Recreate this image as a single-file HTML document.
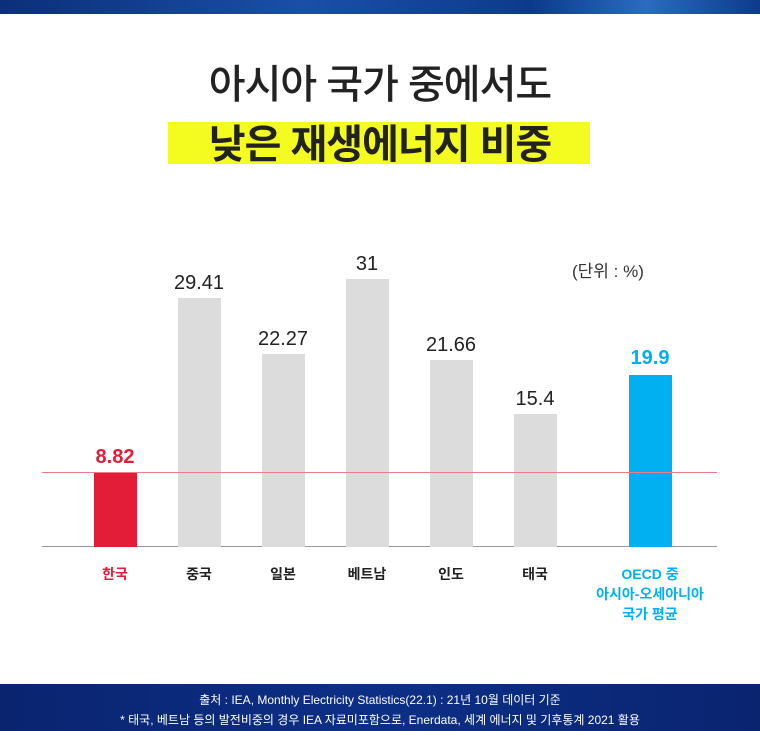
<!DOCTYPE html>
<html><head><meta charset="utf-8"><style>
*{margin:0;padding:0}
body{width:760px;height:731px;background:#fff;position:relative;overflow:hidden;font-family:"Liberation Sans","Noto Sans CJK KR",sans-serif}
.a{position:absolute}
.bar{position:absolute;width:43px;background:#dcdcdc}
.v{position:absolute;width:120px;text-align:center;font-size:20px;color:#222}
.c{position:absolute;width:160px;text-align:center;font-size:14px;font-weight:bold;color:#222;line-height:20px}
</style></head><body>
<div class="a" style="left:0;top:0;width:760px;height:14px;background:linear-gradient(90deg,#0b2f7a,#1a4fa8 40%,#0d3a8c 70%,#2a6cc0 85%,#0d3a8c)"></div>
<div class="a" style="left:0;top:52px;width:760px;text-align:center;font-size:40px;font-weight:500;color:#222;letter-spacing:-1px">아시아 국가 중에서도</div>
<div class="a" style="left:168px;top:122px;width:422px;height:42px;background:#f4fb1e"></div>
<div class="a" style="left:0;top:112px;width:760px;text-align:center;font-size:40px;font-weight:bold;color:#222;letter-spacing:-1px">낮은 재생에너지 비중</div>
<div class="a" style="left:572px;top:257px;font-size:17px;color:#333">(단위 : %)</div>
<div class="a" style="left:42px;top:546px;width:675px;height:1px;background:#999"></div>
<div class="bar" style="left:94px;top:472px;height:75px;background:#e31d38"></div>
<div class="bar" style="left:178px;top:298px;height:249px"></div>
<div class="bar" style="left:262px;top:354px;height:193px"></div>
<div class="bar" style="left:346px;top:279px;height:268px"></div>
<div class="bar" style="left:430px;top:360px;height:187px"></div>
<div class="bar" style="left:514px;top:414px;height:133px"></div>
<div class="bar" style="left:629px;top:375px;height:172px;background:#00b0f0"></div>
<div class="a" style="left:42px;top:472px;width:675px;height:1px;background:#f07a88"></div>
<div class="v" style="left:55px;top:446px;color:#e31d38;font-weight:bold">8.82</div>
<div class="v" style="left:139px;top:272px">29.41</div>
<div class="v" style="left:223px;top:328px">22.27</div>
<div class="v" style="left:307px;top:253px">31</div>
<div class="v" style="left:391px;top:334px">21.66</div>
<div class="v" style="left:475px;top:388px">15.4</div>
<div class="v" style="left:590px;top:347px;color:#00b0f0;font-weight:bold">19.9</div>
<div class="c" style="left:35px;top:564px;color:#e31d38">한국</div>
<div class="c" style="left:119px;top:564px">중국</div>
<div class="c" style="left:203px;top:564px">일본</div>
<div class="c" style="left:287px;top:564px">베트남</div>
<div class="c" style="left:371px;top:564px">인도</div>
<div class="c" style="left:455px;top:564px">태국</div>
<div class="c" style="left:570px;top:564px;color:#00b0f0">OECD 중<br>아시아-오세아니아<br>국가 평균</div>
<div class="a" style="left:0;top:684px;width:760px;height:47px;background:linear-gradient(90deg,#0a2470,#0c2f86 50%,#0a2470)"></div>
<div class="a" style="left:0;top:690px;width:760px;text-align:center;font-size:12px;color:#fff;line-height:20px">출처 : IEA, Monthly Electricity Statistics(22.1) : 21년 10월 데이터 기준<br>* 태국, 베트남 등의 발전비중의 경우 IEA 자료미포함으로, Enerdata, 세계 에너지 및 기후통계 2021 활용</div>
</body></html>
